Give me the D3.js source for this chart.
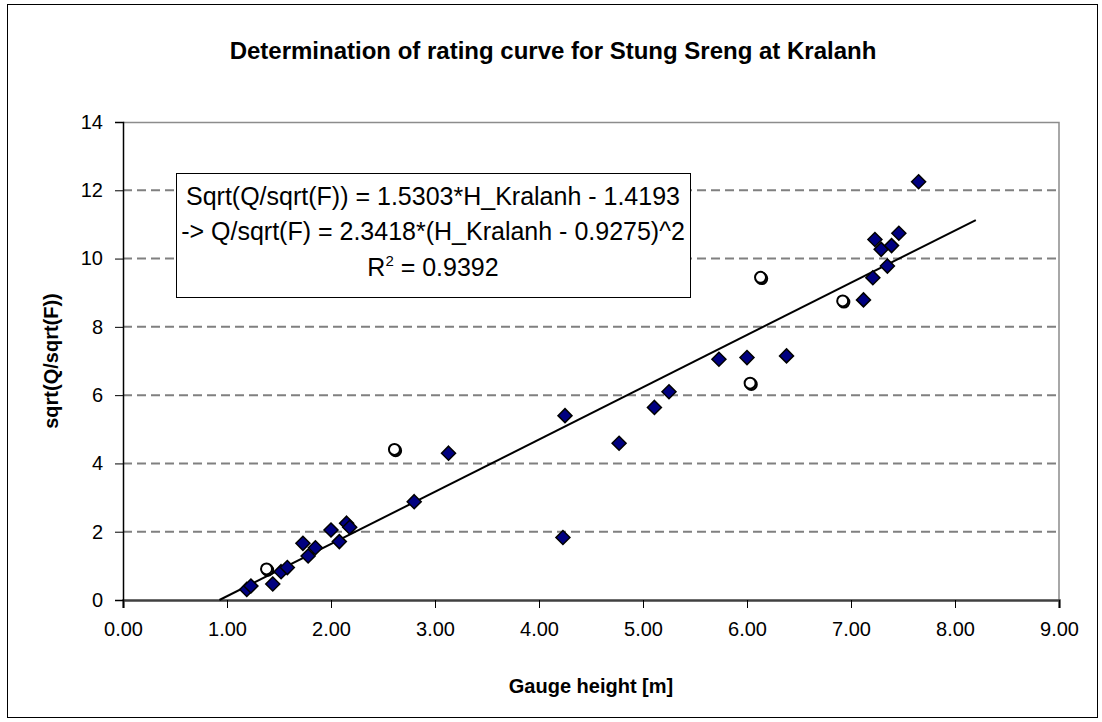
<!DOCTYPE html>
<html>
<head>
<meta charset="utf-8">
<script src="https://cdn.jsdelivr.net/npm/d3@7"></script>
<style>
  body { margin: 0; background: #fff; }
  svg { display: block; font-family: "Liberation Sans", Arial, sans-serif; }
</style>
</head>
<body>
<svg id="chart" width="1102" height="722"></svg>
<script>
// measured points (filled diamonds)
const gaugeH = [1.19, 1.23, 1.44, 1.52, 1.58, 1.73, 1.78, 1.85, 2.00, 2.08, 2.15, 2.18,
  2.80, 3.13, 4.25, 4.23, 4.77, 5.11, 5.25, 5.73, 6.00, 6.38,
  7.12, 7.21, 7.35, 7.23, 7.29, 7.39, 7.46, 7.65];
const sqrtQ = [0.31, 0.41, 0.47, 0.83, 0.95, 1.66, 1.29, 1.53, 2.05, 1.71, 2.25, 2.13,
  2.88, 4.30, 5.40, 1.83, 4.59, 5.64, 6.10, 7.05, 7.10, 7.15,
  8.79, 9.44, 9.78, 10.56, 10.27, 10.38, 10.74, 12.25];

// excluded points (open circles)
const excludedH = [1.38, 2.61, 6.03, 6.13, 6.92];
const excludedQ = [0.91, 4.41, 6.35, 9.45, 8.76];

// trend line end points
const trendH = [0.9275, 8.2];
const trendQ = [0, 11.129];

const xTicks = [0, 1, 2, 3, 4, 5, 6, 7, 8, 9];
const yTicks = [0, 2, 4, 6, 8, 10, 12, 14];

const titleText = 'Determination of rating curve for Stung Sreng at Kralanh';
const xTitle = 'Gauge height [m]';
const yTitle = 'sqrt(Q/sqrt(F))';
const eqLines = ['Sqrt(Q/sqrt(F)) = 1.5303*H_Kralanh - 1.4193',
  '-> Q/sqrt(F) = 2.3418*(H_Kralanh - 0.9275)^2'];
const r2Value = '0.9392';

const svg = d3.select('#chart');
const margin = { left: 123, top: 122, right: 43, bottom: 122 };
const width = 1102 - margin.left - margin.right;
const height = 722 - margin.top - margin.bottom;

// outer chart frame
svg.append('rect')
  .attr('x', 7.5).attr('y', 4.5)
  .attr('width', 1090).attr('height', 713)
  .attr('fill', '#fff').attr('stroke', '#000').attr('stroke-width', 1);

const x = d3.scaleLinear().domain([0, 9]).range([0, width]);
const y = d3.scaleLinear().domain([0, 14]).range([height, 0]);

const g = svg.append('g').attr('transform', `translate(${margin.left},${margin.top})`);

// gridlines
g.selectAll('.grid')
  .data(yTicks.filter(d => d > 0 && d < 14))
  .enter().append('line')
  .attr('x1', 0).attr('x2', width)
  .attr('y1', d => y(d)).attr('y2', d => y(d))
  .attr('stroke', '#808080').attr('stroke-width', 2)
  .attr('stroke-dasharray', '9,5');

// top and right border
g.append('path')
  .attr('d', `M0,0.5H${width}V${height}`)
  .attr('fill', 'none').attr('stroke', '#8c8c8c').attr('stroke-width', 1.5);

// axes
const xAxis = g.append('g')
  .attr('transform', `translate(0,${height})`)
  .call(d3.axisBottom(x).tickValues(xTicks).tickFormat(d3.format('.2f')).tickSize(8).tickPadding(14));
xAxis.select('.domain').attr('stroke', '#404040').attr('stroke-width', 2.5);
xAxis.selectAll('.tick line').attr('stroke', '#000');
xAxis.selectAll('text').attr('font-size', 20).attr('fill', '#000')
  .attr('font-family', '"Liberation Sans", Arial, sans-serif');

const yAxis = g.append('g')
  .call(d3.axisLeft(y).tickValues(yTicks).tickFormat(d3.format('d')).tickSize(8).tickPadding(12));
yAxis.select('.domain').attr('stroke', '#000').attr('stroke-width', 1.5);
yAxis.selectAll('.tick line').attr('stroke', '#000');
yAxis.selectAll('text').attr('font-size', 20).attr('fill', '#000')
  .attr('font-family', '"Liberation Sans", Arial, sans-serif');

// trend line
g.append('line')
  .attr('x1', x(trendH[0])).attr('y1', y(trendQ[0]))
  .attr('x2', x(trendH[1])).attr('y2', y(trendQ[1]))
  .attr('stroke', '#000').attr('stroke-width', 2);

// excluded points (with a small dark shadow like the original)
const excluded = excludedH.map((h, i) => ({ h, q: excludedQ[i] }));
g.selectAll('.excluded-shadow')
  .data(excluded)
  .enter().append('circle')
  .attr('cx', d => x(d.h) + 1.2).attr('cy', d => y(d.q) + 1.2)
  .attr('r', 5.5)
  .attr('fill', 'none').attr('stroke', '#000').attr('stroke-width', 2);
g.selectAll('.excluded')
  .data(excluded)
  .enter().append('circle')
  .attr('cx', d => x(d.h)).attr('cy', d => y(d.q))
  .attr('r', 5.5)
  .attr('fill', '#fff').attr('stroke', '#000').attr('stroke-width', 2);

// measured points
const diamond = d3.symbol().type(d3.symbolDiamond2).size(125);
g.selectAll('.measured')
  .data(gaugeH.map((h, i) => ({ h, q: sqrtQ[i] })))
  .enter().append('path')
  .attr('d', diamond)
  .attr('transform', d => `translate(${x(d.h)},${y(d.q)})`)
  .attr('fill', '#000080').attr('stroke', '#000').attr('stroke-width', 1.5);

// equation box
const box = svg.append('g');
const eqText = box.append('text')
  .attr('font-size', 25).attr('text-anchor', 'middle').attr('fill', '#000');
eqText.append('tspan').attr('x', 433).attr('y', 205).text(eqLines[0]);
eqText.append('tspan').attr('x', 433).attr('y', 240).text(eqLines[1]);
const r2 = eqText.append('tspan').attr('x', 433).attr('y', 276);
r2.append('tspan').text('R');
r2.append('tspan').attr('font-size', 15).attr('dy', -10).text('2');
r2.append('tspan').attr('dy', 10).text(' = ' + r2Value);
const bb = eqText.node().getBBox();
box.insert('rect', 'text')
  .attr('x', Math.round(bb.x - 5) + 0.5).attr('y', 173.5)
  .attr('width', Math.round(bb.width + 10)).attr('height', 124)
  .attr('fill', '#fff').attr('stroke', '#000').attr('stroke-width', 1);

// titles
svg.append('text')
  .attr('x', 553).attr('y', 59)
  .attr('text-anchor', 'middle').attr('font-size', 24).attr('font-weight', 'bold')
  .text(titleText);

svg.append('text')
  .attr('x', margin.left + width / 2).attr('y', 693)
  .attr('text-anchor', 'middle').attr('font-size', 20).attr('font-weight', 'bold')
  .text(xTitle);

svg.append('text')
  .attr('transform', `translate(58,${margin.top + height / 2}) rotate(-90)`)
  .attr('text-anchor', 'middle').attr('font-size', 20).attr('font-weight', 'bold')
  .text(yTitle);
</script>
</body>
</html>
